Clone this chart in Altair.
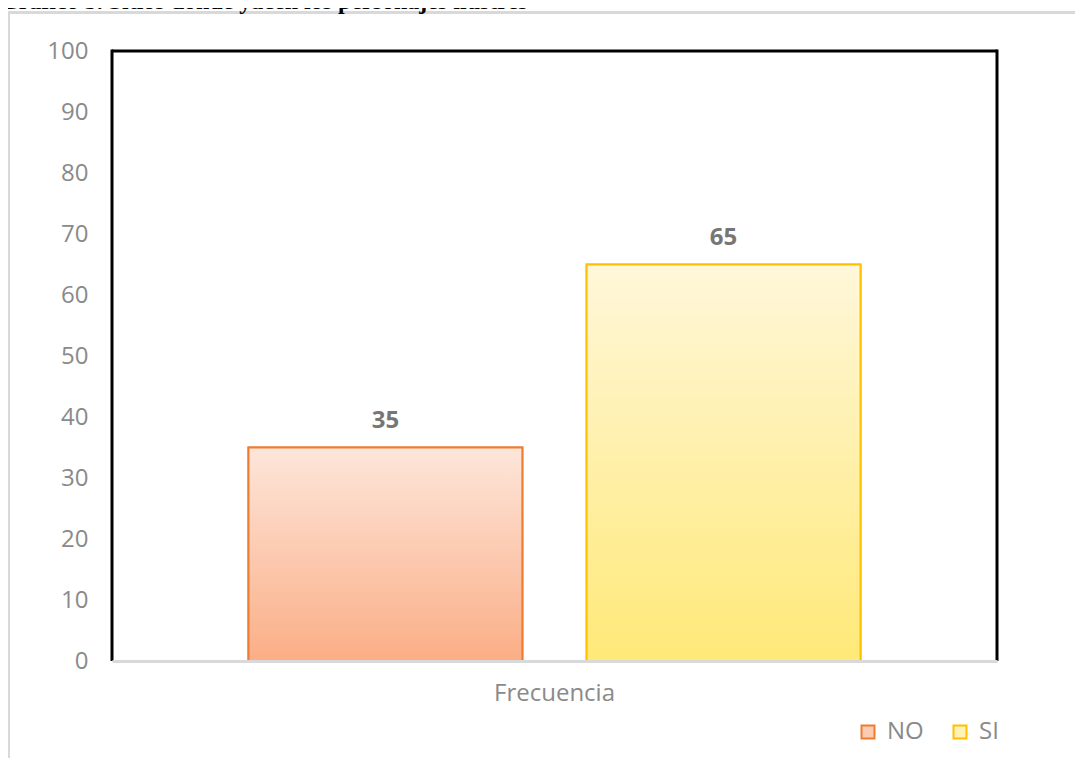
import altair as alt
import pandas as pd

# ---- data ----
categorias = ["Frecuencia", "Frecuencia"]
series = ["NO", "SI"]
valores = [35, 65]
y_ticks = [0, 10, 20, 30, 40, 50, 60, 70, 80, 90, 100]
titulo = ["Gráfico 5. Sitios donde yacen los personajes ilustres"]

df = pd.DataFrame({"categoria": categorias, "serie": series, "valor": valores})
df_titulo = pd.DataFrame({"t": titulo})

# ---- styles ----
FONT = "Open Sans"
AXIS_GRAY = "#8a8a8a"
LABEL_GRAY = "#767676"
STROKES = ["#ed7d31", "#ffc000"]
SWATCH_FILLS = ["#fcccb2", "#fff2b8"]
PLOT_W, PLOT_H = 885, 610

grad_no = {"gradient": "linear", "x1": 0, "y1": 0, "x2": 0, "y2": 1,
           "stops": [{"offset": 0, "color": "#fde6da"}, {"offset": 1, "color": "#fbae86"}]}
grad_si = {"gradient": "linear", "x1": 0, "y1": 0, "x2": 0, "y2": 1,
           "stops": [{"offset": 0, "color": "#fff7da"}, {"offset": 1, "color": "#ffe978"}]}

x_enc = alt.X("categoria:N", title=None,
              scale=alt.Scale(paddingInner=0, paddingOuter=0.223),
              axis=alt.Axis(labelAngle=0, labelFont=FONT, labelFontSize=24, labelColor=AXIS_GRAY,
                            labelPadding=20, ticks=False, domainColor="#d9d9d9", domainWidth=3,
                            zindex=1))
xo_enc = alt.XOffset("serie:N", scale=alt.Scale(domain=series, paddingInner=0.19, paddingOuter=0))
y_enc = alt.Y("valor:Q", title=None, scale=alt.Scale(domain=[0, 100]),
              axis=alt.Axis(values=y_ticks, grid=False, ticks=False, domain=False,
                            labelFont=FONT, labelFontSize=24, labelColor=AXIS_GRAY,
                            labelPadding=24))

legend = alt.Legend(title=None, orient="none", legendX=744, legendY=669, direction="horizontal",
                    symbolType="square", symbolSize=169, symbolStrokeWidth=2,
                    labelFont=FONT, labelFontSize=24, labelColor=AXIS_GRAY,
                    labelOffset=7, columnPadding=24)

base = alt.Chart(df)
one = alt.Chart(df_titulo)

# black plot border on left, top and right (bottom is the light grey axis line)
border_left = one.mark_rule(color="black", strokeWidth=3).encode(
    x=alt.value(0), y=alt.value(-1.5), y2=alt.value(PLOT_H))
border_right = one.mark_rule(color="black", strokeWidth=3).encode(
    x=alt.value(PLOT_W), y=alt.value(-1.5), y2=alt.value(PLOT_H))
border_top = one.mark_rule(color="black", strokeWidth=3).encode(
    x=alt.value(0), x2=alt.value(PLOT_W), y=alt.value(0))

legend_bars = base.mark_bar(strokeWidth=2).encode(
    x=x_enc, xOffset=xo_enc, y=y_enc,
    fill=alt.Fill("serie:N", scale=alt.Scale(domain=series, range=SWATCH_FILLS), legend=legend),
    stroke=alt.Stroke("serie:N", scale=alt.Scale(domain=series, range=STROKES), legend=legend),
)

gradient_bars = base.mark_bar(strokeWidth=2).encode(
    x=x_enc, xOffset=xo_enc, y=y_enc,
    fill=alt.condition("datum.serie === 'NO'", alt.value(grad_no), alt.value(grad_si)),
    stroke=alt.condition("datum.serie === 'NO'", alt.value(STROKES[0]), alt.value(STROKES[1])),
)

labels = base.mark_text(baseline="alphabetic", dy=-20, font=FONT, fontSize=24,
                        fontWeight="bold", color=LABEL_GRAY).encode(
    x=x_enc, xOffset=xo_enc, y=y_enc, text=alt.Text("valor:Q"),
)

frame = one.mark_rect(fill="transparent", stroke="#d9d9d9", strokeWidth=3).encode(
    x=alt.value(-103.5), x2=alt.value(3000), y=alt.value(-38.5), y2=alt.value(3000)
)

title_mark = one.mark_text(align="left", baseline="alphabetic",
                           font="Liberation Serif", fontSize=24,
                           fontWeight="bold", color="black").encode(
    x=alt.value(-112), y=alt.value(-42), text="t:N"
)

chart = alt.layer(frame, border_left, border_right, border_top,
                  legend_bars, gradient_bars, labels, title_mark).properties(
    width=PLOT_W, height=PLOT_H,
    autosize=alt.AutoSizeParams(type="none"),
    padding={"left": 104, "top": 43, "right": 78, "bottom": 97},
    background="white",
).configure_view(stroke="transparent", strokeWidth=0)

chart.save("out.html", embed_options={"renderer": "svg", "actions": False})
